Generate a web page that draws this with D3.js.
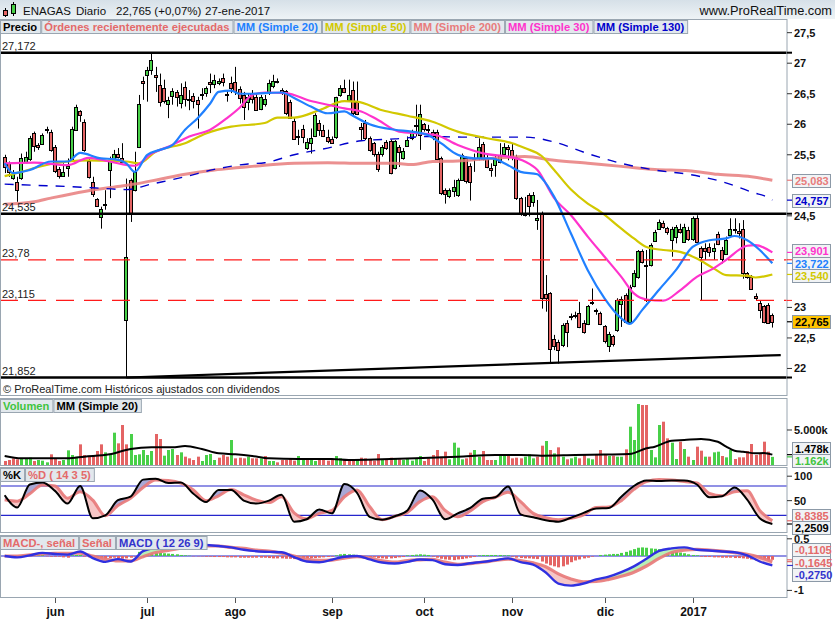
<!DOCTYPE html>
<html>
<head>
<meta charset="utf-8">
<script src="https://cdn.jsdelivr.net/npm/d3@7"></script>
<style>
body { margin: 0; background: #fff; }
svg { display: block; font-family: "Liberation Sans", Arial, sans-serif; }
</style>
</head>
<body>
<div id="viz"></div>
<script>
// ---- daily candles, 16 may 2016 -> 27 jan 2017
const opens = [
  25.46,25.36,25.11,25.06,25.11,25.39,25.43,25.85,25.655,25.68,
  25.90,25.88,25.62,25.26,25.16,25.29,25.41,25.92,26.22,26.04,
  25.40,25.06,24.77,24.48,24.68,25.25,25.41,25.52,25.45,22.80,
  25.09,24.92,25.62,26.71,26.80,26.89,26.81,26.65,26.59,26.34,
  26.45,26.53,26.35,26.61,26.42,26.46,26.40,26.49,26.50,26.70,
  26.67,26.68,26.75,26.50,26.67,26.70,26.57,26.48,26.37,26.52,
  26.45,26.26,26.34,26.50,26.62,26.71,26.56,26.54,26.37,26.06,
  25.81,25.93,25.61,25.69,25.81,26.02,25.91,25.79,25.76,25.78,
  26.48,26.59,26.40,26.56,26.37,25.95,26.02,25.77,25.69,25.51,
  25.51,25.71,25.73,25.28,25.63,25.45,25.65,25.77,25.99,25.81,
  26.00,25.92,25.88,25.88,25.44,24.92,24.83,24.92,24.84,25.09,
  25.44,25.31,25.44,25.44,25.68,25.44,25.29,25.33,25.39,25.50,
  25.62,25.58,25.46,24.79,24.52,24.84,24.73,24.43,24.55,23.22,
  23.24,22.48,22.44,22.38,22.75,22.84,22.87,22.91,22.75,22.73,
  23.09,22.95,22.91,22.69,22.36,22.53,22.63,23.04,23.21,22.77,
  23.35,23.50,23.93,23.69,23.69,24.09,24.28,24.39,24.30,24.10,
  24.15,24.29,24.08,24.26,24.12,24.46,23.97,23.98,23.99,23.93,
  24.21,23.94,23.87,24.18,24.29,24.25,24.29,23.56,23.50,23.19,
  23.08,23.02,23.04,22.88
]
const highs = [
  25.50,25.39,25.25,25.14,25.52,25.55,25.81,25.88,25.69,25.85,
  25.96,25.91,25.66,25.30,25.36,25.44,25.96,26.32,26.23,26.08,
  25.44,25.14,24.79,24.65,24.92,25.47,25.58,25.61,25.69,25.11,
  25.11,25.55,26.48,26.78,26.94,27.172,26.94,26.83,26.73,26.45,
  26.59,26.56,26.67,26.70,26.56,26.51,26.45,26.59,26.62,26.83,
  26.81,26.75,26.83,26.56,26.78,26.94,26.62,26.53,26.51,26.56,
  26.51,26.48,26.48,26.73,26.81,26.75,26.59,26.56,26.40,26.10,
  25.91,25.99,25.77,25.93,26.18,26.07,25.99,25.91,25.80,26.45,
  26.64,26.73,26.73,26.70,26.70,26.02,26.07,25.80,25.71,25.55,
  25.66,25.74,25.75,25.74,25.66,25.61,25.80,25.91,26.32,26.32,
  26.02,25.99,25.91,25.91,25.47,24.95,24.95,25.09,25.11,25.52,
  25.47,25.36,25.52,25.77,25.71,25.50,25.36,25.50,25.69,25.69,
  25.66,25.69,25.50,24.81,24.81,24.87,24.89,24.76,24.57,23.53,
  23.25,22.55,22.47,22.74,22.79,22.90,22.93,23.09,22.79,23.04,
  23.31,22.98,22.93,22.71,22.60,22.55,23.15,23.18,23.23,23.37,
  23.61,23.94,23.95,23.94,24.05,24.27,24.44,24.42,24.32,24.32,
  24.35,24.37,24.37,24.32,24.49,24.51,24.00,24.05,24.05,24.05,
  24.24,23.99,24.16,24.46,24.46,24.38,24.43,23.58,23.53,23.23,
  23.12,23.04,23.07,22.90
]
const lows = [
  25.20,25.14,25.09,24.73,25.09,25.36,25.40,25.55,25.58,25.66,
  25.85,25.55,25.20,25.11,25.14,25.14,25.39,25.91,26.04,25.55,
  25.11,24.81,24.65,24.29,24.60,24.79,25.39,25.44,25.36,21.852,
  24.40,24.90,25.61,26.40,26.37,26.81,26.53,26.29,26.34,26.10,
  26.32,26.29,26.26,26.29,26.23,26.26,25.93,26.40,26.45,26.51,
  26.59,26.64,26.62,26.37,26.51,26.48,26.34,26.07,26.23,26.34,
  26.23,26.23,26.29,26.48,26.59,26.67,26.48,26.15,26.10,25.75,
  25.66,25.69,25.58,25.52,25.79,25.81,25.79,25.69,25.69,25.76,
  26.45,26.51,26.37,26.15,26.15,25.74,25.74,25.55,25.47,25.22,
  25.47,25.58,25.18,25.26,25.30,25.42,25.63,25.74,25.80,25.58,
  25.88,25.80,25.74,25.41,24.84,24.70,24.79,24.81,24.81,25.08,
  25.03,24.75,25.22,25.41,25.41,25.28,25.14,25.14,25.36,25.47,
  25.41,25.41,24.76,24.50,24.49,24.49,24.65,24.27,22.98,22.93,
  22.08,22.30,22.08,22.35,22.35,22.79,22.82,22.66,22.57,22.71,
  23.04,22.88,22.71,22.41,22.27,22.36,22.60,22.68,22.74,22.74,
  23.33,23.47,23.72,23.09,23.67,24.08,24.27,24.29,24.19,23.83,
  24.05,24.21,24.07,24.09,24.09,24.05,23.11,23.78,23.83,23.78,
  24.02,23.72,23.86,24.16,24.21,24.13,23.47,23.47,23.30,23.12,
  22.82,22.74,22.73,22.67
]
const closes = [
  25.30,25.22,25.18,24.93,25.44,25.47,25.77,25.63,25.63,25.82,
  25.92,25.58,25.22,25.14,25.22,25.32,25.93,26.29,26.15,25.58,
  25.14,24.87,24.66,24.61,24.69,25.40,25.51,25.47,25.38,23.83,
  24.54,25.22,26.33,26.67,26.89,27.06,26.77,26.37,26.37,26.40,
  26.54,26.45,26.48,26.42,26.40,26.37,26.33,26.50,26.59,26.66,
  26.73,26.71,26.69,26.49,26.59,26.56,26.42,26.29,26.45,26.42,
  26.24,26.45,26.42,26.67,26.71,26.69,26.53,26.18,26.11,25.77,
  25.79,25.80,25.71,25.77,26.15,25.90,25.81,25.73,25.70,26.44,
  26.59,26.53,26.48,26.18,26.18,25.91,25.77,25.58,25.51,25.26,
  25.62,25.61,25.20,25.73,25.55,25.57,25.75,25.86,25.98,26.16,
  25.91,25.90,25.82,25.44,24.87,24.86,24.93,24.98,25.09,25.50,
  25.06,25.05,25.45,25.62,25.44,25.30,25.25,25.44,25.50,25.62,
  25.58,25.47,24.79,24.53,24.55,24.66,24.84,24.46,23.15,23.15,
  22.33,22.36,22.31,22.71,22.60,22.86,22.86,22.68,22.60,23.02,
  23.08,22.93,22.73,22.44,22.56,22.40,23.12,23.13,22.77,23.34,
  23.57,23.93,23.75,23.67,24.02,24.24,24.40,24.32,24.24,24.28,
  24.32,24.24,24.32,24.12,24.46,24.07,23.83,23.93,23.91,23.98,
  24.05,23.80,24.10,24.28,24.27,24.21,23.57,23.49,23.31,23.15,
  22.96,22.75,22.749,22.765
]

// volume in thousands of shares
const volumes = [
  571,714,952,809,952,952,1047,571,714,619,
  381,1523,952,571,714,2094,1428,1190,2951,1428,
  1190,1285,2000,2951,1809,1523,4617,3094,5712,2951,
  4427,1428,1523,2142,1428,2000,4427,3713,1333,2142,
  2285,1428,1809,1190,952,714,1190,571,1428,1571,
  714,1047,1428,1190,3570,952,1047,952,1190,952,
  952,952,1285,571,571,381,714,714,857,619,
  1285,857,714,857,571,952,714,619,857,1285,
  952,809,714,571,857,1047,952,714,619,1571,
  857,714,1047,952,809,714,857,619,952,1285,
  571,952,1428,2142,1190,1904,809,3189,2475,809,
  952,1761,2142,1190,2000,714,714,714,1523,1285,
  1285,952,1047,952,1190,1523,952,1190,2760,3427,
  2142,1666,2523,1190,809,952,1190,952,1523,952,
  809,1428,2142,1428,1285,1333,1190,1190,2237,5474,
  3570,8711,8568,8568,2142,1095,5712,6188,3808,3189,
  857,3332,2285,1190,714,2618,2047,1190,1190,1809,
  1904,1285,1095,2142,857,1095,1095,2000,3000,1428,
  1571,3332,1904,1162
]
const volMa20 = [[0,1285],[4,952],[15,952],[19,1190],[25,1523],[30,2285],[35,2523],[40,2523],[43,2700],
  [47,2285],[51,1666],[55,1523],[59,1285],[63,952],[70,857],[78,857],[82,714],[90,809],[98,952],
  [108,1190],[117,1428],[123,1428],[128,1333],[136,1428],[143,1500],[149,1571],[153,2380],[155,2618],
  [159,3475],[162,3570],[166,3713],[170,3332],[172,2618],[174,2047],[176,1904],[179,1666],[181,1700],[183,1478]]

// moving averages on price, [bar, value]
const ma20 = [[0,25.36],[2,25.20],[6,25.25],[11,25.39],[15,25.39],[18,25.53],[23,25.44],[26,25.43],[29,25.36],
  [31,25.22],[34,25.50],[37,25.58],[40,25.66],[43,25.91],[46,26.10],[49,26.34],[51,26.53],[54,26.55],[56,26.50],
  [59,26.50],[62,26.51],[66,26.52],[69,26.43],[73,26.29],[77,26.18],[81,26.21],[83,26.14],[87,26.00],[93,25.91],
  [97,25.88],[101,25.82],[104,25.69],[108,25.50],[112,25.44],[116,25.44],[120,25.33],[123,25.22],[127,25.18],
  [128,25.12],[131,24.81],[135,24.21],[139,23.61],[143,23.15],[147,22.82],[149,22.73],[152,22.96],[156,23.29],
  [160,23.61],[164,23.99],[168,24.10],[172,24.13],[174,24.17],[177,24.10],[180,23.94],[183,23.722]]
const ma30 = [[0,25.36],[7,25.37],[15,25.33],[20,25.45],[25,25.39],[31,25.32],[35,25.52],[39,25.63],[44,25.80],
  [49,25.91],[53,26.10],[56,26.27],[59,26.48],[62,26.52],[67,26.51],[73,26.38],[77,26.32],[81,26.26],[85,26.21],
  [89,26.07],[94,25.88],[99,25.85],[103,25.82],[108,25.66],[115,25.51],[120,25.47],[124,25.39],[127,25.25],
  [131,24.79],[135,24.51],[139,24.16],[143,23.83],[147,23.50],[150,23.23],[153,23.13],[157,23.11],[161,23.28],
  [165,23.50],[169,23.64],[172,23.78],[177,24.01],[179,24.02],[183,23.901]]
const ma50 = [[0,25.15],[4,25.22],[8,25.30],[15,25.39],[20,25.41],[25,25.40],[29,25.39],[32,25.36],[36,25.55],
  [43,25.69],[48,25.85],[54,25.96],[62,26.02],[65,26.11],[69,26.11],[75,26.23],[81,26.38],[84,26.37],[90,26.23],
  [96,26.14],[102,26.04],[108,25.88],[115,25.77],[121,25.69],[124,25.61],[128,25.48],[131,25.25],[135,24.93],
  [139,24.70],[142,24.57],[147,24.29],[150,24.13],[153,23.99],[157,23.94],[161,23.91],[165,23.80],[169,23.64],
  [172,23.53],[177,23.52],[179,23.49],[183,23.540]]
const ma200 = [[0,24.69],[7,24.73],[11,24.79],[19,24.90],[27,24.98],[31,25.02],[37,25.10],[43,25.18],[50,25.25],
  [56,25.29],[62,25.33],[69,25.36],[77,25.37],[85,25.36],[93,25.36],[97,25.34],[102,25.39],[108,25.40],
  [116,25.44],[124,25.47],[131,25.41],[139,25.36],[147,25.31],[155,25.26],[163,25.24],[170,25.18],[178,25.14],[183,25.083]]
const ma130 = [[0,25.02],[7,25.00],[15,24.98],[21,24.96],[29,24.93],[35,25.02],[43,25.14],[50,25.26],[58,25.35],
  [62,25.37],[69,25.50],[77,25.61],[85,25.73],[93,25.76],[101,25.80],[109,25.79],[117,25.79],[124,25.79],
  [131,25.71],[139,25.52],[147,25.36],[155,25.25],[163,25.18],[171,25.06],[179,24.87],[181,24.83],[183,24.757]]

// oscillators, sampled on these bars
const oscIdx = [0,3,6,9,12,15,18,21,24,27,30,33,36,39,42,45,48,51,54,57,60,63,66,69,72,75,78,81,84,87,90,93,
  96,99,102,105,108,111,114,117,120,123,126,129,132,135,138,141,144,147,150,153,156,159,162,165,168,171,174,177,180,183]
const stochK = [61,36,83,87,70,44,80,14,20,51,58,93,95,86,87,64,47,72,72,50,44,50,62,7,12,32,24,84,66,17,11,18,
  30,71,52,12,24,35,54,57,79,22,16,10,7,15,25,34,35,58,80,91,90,91,91,83,57,59,77,52,14,2.2509]
const stochD = [52,49,64,82,80,55,68,51,19,40,55,77,92,91,86,72,50,60,73,62,51,46,58,25,13,24,30,58,72,38,11,18,
  26,48,58,30,17,29,48,57,67,48,24,15,11,14,21,36,37,50,73,89,93,92,89,86,65,60,68,70,30,8.8385]
const macdLine = [0,-0.04,0.02,0.09,0.06,0.04,0.13,-0.06,-0.17,-0.09,-0.16,0.14,0.23,0.26,0.29,0.34,0.32,0.29,
  0.25,0.18,0.14,0.12,0.11,-0.03,-0.16,-0.18,-0.11,-0.02,0,-0.10,-0.19,-0.22,-0.17,-0.10,-0.12,-0.24,-0.26,
  -0.21,-0.17,-0.12,-0.07,-0.18,-0.25,-0.48,-0.80,-0.86,-0.80,-0.68,-0.60,-0.47,-0.30,-0.08,0.15,0.22,0.25,
  0.18,0.16,0.13,0.11,0.02,-0.16,-0.275]
const macdSignal = [0,0,0.03,0.06,0.08,0.08,0.08,0,-0.09,-0.14,-0.14,-0.02,0.10,0.16,0.23,0.27,0.29,0.29,
  0.25,0.22,0.17,0.14,0.08,0,-0.09,-0.13,-0.12,-0.06,-0.02,-0.06,-0.14,-0.18,-0.13,-0.11,-0.10,-0.18,-0.24,
  -0.22,-0.18,-0.13,-0.09,-0.13,-0.20,-0.31,-0.52,-0.67,-0.75,-0.74,-0.68,-0.59,-0.47,-0.29,-0.07,0.10,0.17,
  0.19,0.17,0.14,0.10,0.05,-0.04,-0.1645]
const macdHist = [
  -0.02,-0.02,-0.02,-0.02,0.03,0.04,0.05,0.05,0.04,0.03,
  -0.01,-0.02,-0.02,-0.02,-0.04,-0.05,0.02,0.03,0.03,-0.02,
  -0.04,-0.06,-0.08,-0.09,-0.08,-0.06,-0.05,-0.07,-0.08,-0.07,
  -0.05,-0.02,0.12,0.15,0.13,0.11,0.10,0.09,0.08,0.07,
  0.06,0.05,0.03,0.02,0.01,-0.01,-0.01,-0.01,-0.02,-0.02,
  -0.03,-0.03,-0.03,-0.04,-0.04,-0.04,-0.05,-0.05,-0.05,-0.05,
  -0.05,-0.05,-0.05,-0.06,-0.07,-0.07,-0.07,-0.08,-0.08,-0.09,
  -0.09,-0.08,-0.07,-0.06,-0.06,-0.05,-0.04,-0.03,-0.02,0.02,
  0.05,0.06,0.05,0.04,0.02,-0.01,-0.02,-0.03,-0.04,-0.06,
  -0.07,-0.08,-0.07,-0.06,-0.04,-0.03,0.02,0.03,0.04,0.05,
  0.04,0.03,-0.02,-0.05,-0.08,-0.10,-0.11,-0.12,-0.10,-0.09,
  -0.07,-0.05,-0.03,0.02,0.03,0.03,0.03,0.03,0.03,0.02,
  0.02,-0.02,-0.05,-0.06,-0.07,-0.07,-0.08,-0.09,-0.16,-0.22,
  -0.27,-0.30,-0.33,-0.30,-0.25,-0.18,-0.13,-0.10,-0.07,-0.05,
  -0.02,0,0.03,0.04,0.05,0.06,0.06,0.09,0.12,0.16,
  0.20,0.24,0.25,0.24,0.22,0.21,0.20,0.19,0.17,0.15,
  0.12,0.10,0.08,0.05,0.03,0.02,-0.02,-0.03,-0.03,-0.04,
  -0.04,-0.05,-0.05,-0.05,-0.06,-0.06,-0.07,-0.08,-0.10,-0.13,
  -0.15,-0.17,-0.14,-0.1105
]

const monthTicks = [[12,"jun"],[34,"jul"],[55,"ago"],[78,"sep"],[100,"oct"],[121,"nov"],[143,"dic"],[164,"2017"]]
const priceTicks = [22,22.5,23,24.5,25.5,26,26.5,27,27.5]
const levels = [[27.172,"solid"],[24.535,"solid"],[23.78,"dash"],[23.115,"dash"],[21.852,"solid"]]
const trendLine = [[29,21.852],[185,22.22]]

// ---- colours
const green = "#48d048", red = "#e46464"
const cMa20 = "#2080ff", cMa50 = "#d2c800", cMa200 = "#e87c7c", cMa30 = "#ff33cc", cMa130 = "#0000cc"
const salmon = "#e46a6a", frame = "#9aa6b1"

const W = 835, H = 620, plotR = 787
const n = closes.length
const panels = {
  price: {top: 19, bottom: 396},
  vol:   {top: 398, bottom: 466},
  stoch: {top: 467, bottom: 533},
  macd:  {top: 535, bottom: 598}
}

const svg = d3.select("#viz").append("svg").attr("width", W).attr("height", H)
const defs = svg.append("defs")

// bars sit on a band scale, sparse lines on a linear one through the same centres
const x = d3.scaleBand().domain(d3.range(n)).range([2.56, 2.56 + n * 4.195])
const cx = i => x(i) + x.bandwidth() / 2
const xi = d3.scaleLinear().domain([0, n - 1]).range([cx(0), cx(n - 1)])
const px = i => Math.round(cx(i))

const yP = d3.scaleLinear().domain([21.549, 27.724]).range([panels.price.bottom, panels.price.top])
const yV = d3.scaleLinear().domain([0, 9571]).range([465, panels.vol.top])
const yS = d3.scaleLinear().domain([0, 100]).range([525.1, 476.2])
const yM = d3.scaleLinear().domain([-1, 0.5]).range([590.4, 538.8])

const comma = s => s.replace(".", ",")

// title bar
const grad = defs.append("linearGradient").attr("id", "hdr").attr("x1", 0).attr("x2", 0).attr("y1", 0).attr("y2", 1)
grad.append("stop").attr("offset", "0%").attr("stop-color", "#d6e0e8")
grad.append("stop").attr("offset", "100%").attr("stop-color", "#eef3f6")
svg.append("rect").attr("width", W).attr("height", 19).attr("fill", "url(#hdr)")
const icon = svg.append("g")
icon.append("line").attr("x1", 5.5).attr("x2", 5.5).attr("y1", 8).attr("y2", 17).attr("stroke", "#000")
icon.append("rect").attr("x", 3.5).attr("y", 10.5).attr("width", 4).attr("height", 5).attr("fill", red).attr("stroke", "#000")
icon.append("line").attr("x1", 13.5).attr("x2", 13.5).attr("y1", 2).attr("y2", 16).attr("stroke", "#000")
icon.append("rect").attr("x", 11.5).attr("y", 4.5).attr("width", 4).attr("height", 9).attr("fill", green).attr("stroke", "#000")
const ttl = svg.append("g").attr("font-size", 11.5).attr("fill", "#111")
ttl.append("text").attr("x", 23).attr("y", 15).text("ENAGAS")
ttl.append("text").attr("x", 76).attr("y", 15).text("Diario")
ttl.append("text").attr("x", 116).attr("y", 15).text("22,765 (+0,07%)")
ttl.append("text").attr("x", 205).attr("y", 15).text("27-ene-2017")
ttl.append("text").attr("x", 832).attr("y", 15).attr("text-anchor", "end").attr("font-size", 12.8).text("www.ProRealTime.com")

// panel frames and clips
Object.entries(panels).forEach(([k, p]) => {
  svg.append("rect").attr("x", 0.5).attr("y", p.top + 0.5).attr("width", plotR - 0.5)
    .attr("height", p.bottom - p.top - 1).attr("fill", "#fff").attr("stroke", frame)
  defs.append("clipPath").attr("id", "clip-" + k).append("rect")
    .attr("x", 1).attr("y", p.top + 1).attr("width", plotR - 1.5).attr("height", p.bottom - p.top - 2)
})

// ---------------- price
const gP = svg.append("g").attr("clip-path", "url(#clip-price)")

gP.append("g").selectAll("line").data(d3.range(n)).join("line")
  .attr("x1", i => px(i) + 0.5).attr("x2", i => px(i) + 0.5)
  .attr("y1", i => yP(highs[i])).attr("y2", i => yP(lows[i]))
  .attr("stroke", "#000")
gP.append("g").selectAll("rect").data(d3.range(n)).join("rect")
  .attr("x", i => px(i) - 1.5).attr("width", 3)
  .attr("y", i => Math.round(yP(Math.max(opens[i], closes[i]))) + 0.5)
  .attr("height", i => Math.max(1, Math.round(Math.abs(yP(opens[i]) - yP(closes[i])))))
  .attr("fill", i => closes[i] >= opens[i] ? green : red)
  .attr("stroke", "#000")

const lineP = d3.line().x(d => xi(d[0])).y(d => yP(d[1])).curve(d3.curveMonotoneX)
const maStyles = [[ma200, cMa200, 3, null, 0.85], [ma130, cMa130, 1.4, "9,8", 1], [ma50, cMa50, 2.2, null, 1],
  [ma30, cMa30, 2.2, null, 1], [ma20, cMa20, 2.2, null, 1]]
maStyles.forEach(([data, col, w, dash, op]) => {
  gP.append("path").attr("d", lineP(data)).attr("fill", "none").attr("stroke", col)
    .attr("stroke-width", w).attr("stroke-dasharray", dash).attr("opacity", op)
})

levels.forEach(([v, type]) => {
  const y = yP(v)
  gP.append("line").attr("x1", 0).attr("x2", plotR).attr("y1", y).attr("y2", y)
    .attr("stroke", type === "solid" ? "#000" : "#ff1a1a")
    .attr("stroke-width", type === "solid" ? 2.5 : 1.3)
    .attr("stroke-dasharray", type === "solid" ? null : "18,10")
  svg.append("text").attr("x", 2).attr("y", y - 2.5).attr("font-size", 11).attr("fill", "#222")
    .text(comma(String(v)))
  svg.append("line").attr("x1", plotR).attr("x2", plotR + 5).attr("y1", y).attr("y2", y)
    .attr("stroke", type === "solid" ? "#000" : "#ff1a1a").attr("stroke-width", type === "solid" ? 2 : 1)
})
gP.append("path").attr("d", d3.line().x(d => xi(d[0])).y(d => yP(d[1]))(trendLine))
  .attr("stroke", "#000").attr("stroke-width", 2.2).attr("fill", "none")

svg.append("text").attr("x", 3).attr("y", 393).attr("font-size", 11).attr("fill", "#222")
  .text("© ProRealTime.com  Históricos ajustados con dividendos")

// ---------------- volume
const gV = svg.append("g").attr("clip-path", "url(#clip-vol)")
gV.selectAll("rect").data(d3.range(n)).join("rect")
  .attr("x", i => px(i) - 1).attr("width", 3)
  .attr("y", i => yV(volumes[i])).attr("height", i => yV(0) - yV(volumes[i]))
  .attr("fill", i => (i === 0 ? closes[0] >= opens[0] : closes[i] >= closes[i - 1]) ? green : red)
gV.append("path").attr("d", d3.line().x(d => xi(d[0])).y(d => yV(d[1])).curve(d3.curveMonotoneX)(volMa20))
  .attr("fill", "none").attr("stroke", "#000").attr("stroke-width", 2)

// ---------------- fills between two sampled lines
function bandFill(g, a, b, ys, colUp, colDown, top, bottom, id) {
  const curve = d3.curveMonotoneX
  const xs = (d, k) => xi(oscIdx[k])
  const between = d3.area().x(xs).y0((d, k) => ys(b[k])).y1((d, k) => ys(a[k])).curve(curve)
  const above = d3.area().x(xs).y0(top).y1((d, k) => ys(b[k])).curve(curve)
  const below = d3.area().x(xs).y0((d, k) => ys(b[k])).y1(bottom).curve(curve)
  defs.append("clipPath").attr("id", id + "-up").append("path").attr("d", above(oscIdx))
  defs.append("clipPath").attr("id", id + "-dn").append("path").attr("d", below(oscIdx))
  g.append("path").attr("d", between(oscIdx)).attr("fill", colUp).attr("clip-path", `url(#${id}-up)`)
  g.append("path").attr("d", between(oscIdx)).attr("fill", colDown).attr("clip-path", `url(#${id}-dn)`)
}
const oscLine = (vals, ys) => d3.line().x((d, k) => xi(oscIdx[k])).y((d, k) => ys(vals[k])).curve(d3.curveMonotoneX)(oscIdx)

// ---------------- stochastic
const gS = svg.append("g").attr("clip-path", "url(#clip-stoch)")
;[80, 20].forEach(v => gS.append("line").attr("x1", 0).attr("x2", plotR).attr("y1", yS(v)).attr("y2", yS(v))
  .attr("stroke", "#2525cc").attr("stroke-width", 1.2))
bandFill(gS, stochK, stochD, yS, "#a8a8d6", "#f6c6c6", panels.stoch.top, panels.stoch.bottom, "stf")
gS.append("path").attr("d", oscLine(stochD, yS)).attr("fill", "none").attr("stroke", "#e87878").attr("stroke-width", 3).attr("opacity", 0.9)
gS.append("path").attr("d", oscLine(stochK, yS)).attr("fill", "none").attr("stroke", "#000").attr("stroke-width", 2)

// ---------------- MACD
const gM = svg.append("g").attr("clip-path", "url(#clip-macd)")
gM.append("line").attr("x1", 0).attr("x2", plotR).attr("y1", yM(0)).attr("y2", yM(0)).attr("stroke", "#2525cc").attr("stroke-width", 1.2)
gM.selectAll("rect.h").data(d3.range(n)).join("rect").attr("class", "h")
  .attr("x", i => px(i) - 1).attr("width", 3)
  .attr("y", i => Math.min(yM(0), yM(macdHist[i]))).attr("height", i => Math.abs(yM(macdHist[i]) - yM(0)))
  .attr("fill", i => macdHist[i] >= 0 ? green : red)
bandFill(gM, macdLine, macdSignal, yM, "#b6efb6", "#f6c6c6", panels.macd.top, panels.macd.bottom, "mcf")
gM.append("path").attr("d", oscLine(macdSignal, yM)).attr("fill", "none").attr("stroke", "#e87878").attr("stroke-width", 3.2).attr("opacity", 0.9)
gM.append("path").attr("d", oscLine(macdLine, yM)).attr("fill", "none").attr("stroke", "#3030e0").attr("stroke-width", 2.4)

// ---------------- legends
function legend(y, items) {
  let xPos = 0
  items.forEach(([label, col]) => {
    const g = svg.append("g")
    const t = g.append("text").attr("x", xPos + 3).attr("y", y + 10.5).attr("font-size", 11.2)
      .attr("font-weight", "bold").attr("fill", col).text(label)
    const w = t.node().getComputedTextLength() + 6
    g.insert("rect", "text").attr("x", xPos + 0.5).attr("y", y + 0.5).attr("width", w).attr("height", 13)
      .attr("fill", "#e2e8ed").attr("stroke", frame)
    xPos += w + 1
  })
}
legend(20, [["Precio", "#000"], ["Órdenes recientemente ejecutadas", salmon], ["MM (Simple 20)", cMa20],
  ["MM (Simple 50)", cMa50], ["MM (Simple 200)", cMa200], ["MM (Simple 30)", cMa30], ["MM (Simple 130)", cMa130]])
legend(399, [["Volumen", "#3fc43f"], ["MM (Simple 20)", "#000"]])
legend(468, [["%K", "#000"], ["%D ( 14 3 5)", salmon]])
legend(536, [["MACD-, señal", salmon], ["Señal", salmon], ["MACD ( 12 26 9)", "#3333cc"]])

// ---------------- right axes
function ticksRight(vals, ys, fmt) {
  vals.forEach(v => {
    svg.append("line").attr("x1", plotR).attr("x2", plotR + 5).attr("y1", ys(v)).attr("y2", ys(v)).attr("stroke", "#333")
    svg.append("text").attr("x", 794).attr("y", ys(v) + 4).attr("font-size", 11).attr("font-weight", "bold")
      .attr("fill", "#111").text(fmt(v))
  })
}
ticksRight(priceTicks, yP, v => comma(String(v)))
ticksRight([5000], yV, v => (v / 1000).toFixed(3) + "k")
ticksRight([100, 50], yS, v => String(v))
ticksRight([0.5, -1], yM, v => String(v))

function spread(tags, h, lo, hi) {
  tags.sort((a, b) => a.y0 - b.y0)
  let cl = tags.map(t => ({items: [t], c: t.y0}))
  let merged = true
  while (merged) {
    merged = false
    for (let k = 1; k < cl.length; k++) {
      const A = cl[k - 1], B = cl[k]
      if ((B.c - (B.items.length - 1) * h / 2) - (A.c + (A.items.length - 1) * h / 2) < h) {
        const items = A.items.concat(B.items)
        cl.splice(k - 1, 2, {items, c: d3.mean(items, t => t.y0)})
        merged = true
        break
      }
    }
  }
  cl.forEach(c => {
    const m = c.items.length
    let s = c.c - (m - 1) * h / 2
    s = Math.max(lo + h / 2, Math.min(s, hi - h / 2 - (m - 1) * h))
    c.items.forEach((t, k) => t.y = s + k * h)
  })
}
function tags(list, ys, panel, h) {
  list.forEach(t => t.y0 = ys(t.v))
  spread(list, h, panel.top, panel.bottom)
  list.forEach(t => {
    svg.append("line").attr("x1", plotR).attr("x2", plotR + 6).attr("y1", t.y0).attr("y2", t.y0).attr("stroke", t.col).attr("stroke-width", 1.2)
    svg.append("rect").attr("x", 792.5).attr("y", Math.round(t.y - 6.5) + 0.5).attr("width", 38).attr("height", 13)
      .attr("fill", t.bg || "#f1f3f5").attr("stroke", "#8c99a7")
    svg.append("text").attr("x", 795).attr("y", Math.round(t.y - 6.5) + 11).attr("font-size", 11).attr("font-weight", "bold")
      .attr("fill", t.col).text(t.label)
  })
}
const last = a => a[a.length - 1][1]
const p3 = v => comma(v.toFixed(3))
tags([
  {v: last(ma200), col: cMa200, label: p3(last(ma200))},
  {v: last(ma130), col: cMa130, label: p3(last(ma130))},
  {v: last(ma30), col: cMa30, label: p3(last(ma30))},
  {v: last(ma20), col: cMa20, label: p3(last(ma20))},
  {v: last(ma50), col: cMa50, label: p3(last(ma50))},
  {v: closes[n - 1], col: "#000", bg: "#ffc400", label: p3(closes[n - 1])}
], yP, panels.price, 12.5)
tags([
  {v: last(volMa20), col: "#000", label: (last(volMa20) / 1000).toFixed(3) + "k"},
  {v: volumes[n - 1], col: "#3fc43f", label: (volumes[n - 1] / 1000).toFixed(3) + "k"}
], yV, panels.vol, 12)
tags([
  {v: stochD[stochD.length - 1], col: salmon, label: comma(stochD[stochD.length - 1].toFixed(4))},
  {v: stochK[stochK.length - 1], col: "#000", label: comma(stochK[stochK.length - 1].toFixed(4))}
], yS, panels.stoch, 12)
tags([
  {v: macdHist[n - 1], col: salmon, label: comma(macdHist[n - 1].toFixed(4))},
  {v: macdSignal[macdSignal.length - 1], col: salmon, label: comma(macdSignal[macdSignal.length - 1].toFixed(4))},
  {v: macdLine[macdLine.length - 1], col: "#3333cc", label: comma(macdLine[macdLine.length - 1].toFixed(4))}
], yM, panels.macd, 12.5)

// ---------------- time axis
monthTicks.forEach(([i, label]) => {
  svg.append("line").attr("x1", px(i) + 0.5).attr("x2", px(i) + 0.5).attr("y1", 598).attr("y2", 603).attr("stroke", "#555")
  svg.append("text").attr("x", px(i) + 0.5).attr("y", 616).attr("text-anchor", "middle")
    .attr("font-size", 12).attr("font-weight", "bold").attr("fill", "#111").text(label)
})
</script>
</body>
</html>
